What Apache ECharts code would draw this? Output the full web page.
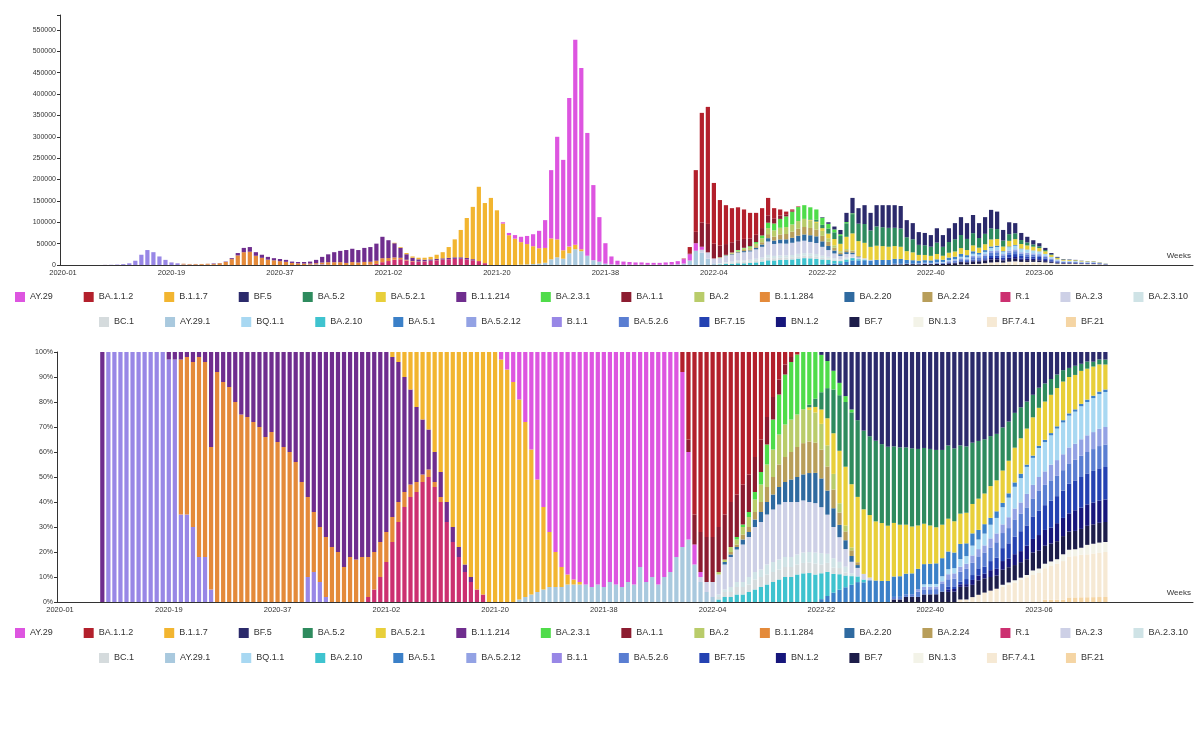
<!DOCTYPE html>
<html><head><meta charset="utf-8">
<script src="https://cdn.jsdelivr.net/npm/echarts/dist/echarts.min.js"></script>
<style>html,body{margin:0;padding:0;background:#fff}#c{width:1203px;height:745px}</style>
</head><body><div id="c"></div>
<script>
// ---------- DATA ----------
const N_WEEKS = 176;   // 2020-01 .. 2023-19
const N_BLANK = 12;    // empty axis extension after the data
const yearWeeks = [[2020, 53], [2021, 52], [2022, 52], [2023, 52]];

// weekly sequenced totals (top chart heights), weeks 0..175
const totals = [
  0,0,0,0,0,0,0,200,500,1000,
  2000,4000,10000,24000,35000,30000,20000,12000,6000,4000,
  3000,2500,2500,2500,3000,3500,4500,8000,16000,28000,
  40000,42000,30000,24000,19000,16000,14000,12000,8000,7000,
  7000,8000,12000,19000,25000,30000,33000,35000,38000,35000,
  40000,42000,50000,66000,58000,52000,42000,28000,20000,17000,
  17000,19000,24000,30000,42000,60000,82000,110000,136000,183000,
  145000,157000,128000,100000,75000,70000,66000,68000,72000,80000,
  105000,222000,300000,246000,391000,527000,461000,309000,187000,112000,
  51000,20000,10000,8000,7000,6000,6000,5000,5000,5000,
  6000,7000,9000,15000,42000,222000,356000,370000,192000,152000,
  140000,133000,135000,130000,122000,122000,133000,157000,133000,130000,
  125000,130000,137000,140000,135000,130000,112000,100000,90000,82000,
  122000,157000,133000,140000,122000,140000,140000,140000,140000,138000,
  105000,98000,77000,75000,70000,86000,70000,86000,98000,112000,
  98000,117000,98000,112000,129000,125000,82000,100000,98000,75000,
  66000,58000,51000,40000,28000,19000,14000,13000,12000,10000,
  9000,9000,7000,4000,2000,1000
];

// lineage shares (%), given as [startWeekIndex, values...] pieces
const B_1_1      = [[8, [100,100,100,100,100,100,100,100,100,100, 97,97,35,35,30,18,18,5,0,0, 0,0,0,0,0,0,0,0,0,0, 0,0,0,10,12,8,2]]];
const B_1_1_284  = [[20, [62,63,66,80,78,57,92,88,86,80, 75,74,72,70,66,68,64,62,60,56, 48,32,24,22,24,22,20,14,18,17, 18,16,15,14,12,10,8,6,5,4, 3,3,2,2]]];
const B_1_1_214  = [[7, [100]], [18, [3,3,3,2,4,2,4,38,8,12,14,20,25,26,28,30,34,32,36,38,40,44,52,58,64,70,74,78,80,86,82,83,82,82,80,76,72,64,56,46,38,30,22,16,12,10,8,6,4,3,2]]];
const R_1        = [[51, [2,5,10,16,24,32,38,42,44,48, 50,46,40,32,24,18,12,8,5,3]]];
const B_1_1_7    = [[55, [2,4,10,15,22,27,31,40,48,60, 70,78,85,90,95,97,100,100,97,93, 88,80,70,58,45,33,22,14,8,4, 2,1]]];
const AY_29      = [[73, [3,7,12,19,28,39,51,62,72,80, 86,89,91,92,93,94,93,94,92,93, 94,92,93,86,92,90,93,90,88,82, 70,35,8,2]]];
const AY_29_1    = [[76, [1,2,3,4,5,6,6,6,7,7, 7,7,6,7,6,8,7,6,8,7, 14,8,10,7,10,12,18,22,25,15, 8,4,2]]];
const BA_1_1_2   = [[103, [8,35,65,72,74,74,70,65,60,57, 53,49,42,35,26,18,11,5,2,1]]];
const BA_1_1     = [[104, [5,12,16,18,18,18,18,18,17,16, 15,14,13,11,9,6,4,2]]];
const BA_2_3     = [[106, [2,4,6,8,10,12,13,15,16,18, 19,20,21,22,22,22,21,20,19,18, 16,13,10,8,6,4,3,2,1]]];
const BA_2_10    = [[109, [1,2,2,3,3,4,5,6,7,8, 9,10,10,11,11,11,10,9,8,6, 5,4,3,2,1]]];
const BC_1       = [[109, [1,2,2,3,3,3,4,4,4,4, 4,4,4,4,4,4,4,3,3,2, 2,1]]];
const BA_2_3_10  = [[109, [1,1,2,2,2,3,3,3,4,4, 4,4,4,4,4,4,4,4,3,3, 2,2,1]]];
const BA_2_20    = [[110, [1,1,1,2,2,3,4,5,6,7, 8,9,10,10,11,11,10,8,6,4, 3,2,1]]];
const BA_2_24    = [[111, [1,1,2,2,3,4,6,7,9,10, 11,12,12,12,11,10,8,6,4,3, 2,1]]];
const BA_2       = [[109, [1,1,2,2,3,4,5,7,9,11, 12,13,13,13,13,12,11,9,7,5, 3,2,1]]];
const BA_2_3_1   = [[112, [1,1,2,3,5,8,12,16,20,23, 24,22,20,17,13,9,6,4,2,1]]];
const BA_5_2     = [[124, [1,3,6,10,14,18,22,25,27,28, 29,30,30,30,30,30,30,30,30,30, 30,30,29,29,28,27,26,25,24,23, 22,21,20,18,16,14,12,10,9,8, 7,6,5,4,4,3,3,2,2,2]]];
const BA_5_2_1   = [[124, [1,2,5,9,13,17,20,22,23,23, 23,22,22,21,21,20,19,18,17,16, 15,14,13,13,12,12,12,12,13,13, 14,14,15,15,16,16,16,17,17,17, 17,17,17,16,15,14,13,12,11,10]]];
const BF_5       = [[126, [1,3,6,10,15,20,24,28,31,33, 35,36,37,37,37,37,38,38,38,38, 38,37,37,37,37,37,37,37,37,37, 35,32,28,25,22,19,16,14,12,10, 8,7,6,5,4,4,3,3]]];
const BA_5_1     = [[126, [1,2,3,4,5,6,7,7,8,8, 8,8,8,8,8,8,8,8,8,8, 7,7,6,6,5,5,4,4,3,3, 2,2,2,2,1,1,1,1,1,1, 1,1,1,1,1,1,1,1]]];
const BQ_1_1     = [[143, [1,1,1,2,2,2,3,3,4,4, 5,6,7,8,9,10,11,12,12,13, 13,13,14,14,14,14,14,14,14,14, 14]]];
const BA_5_2_6   = [[138, [1,1,1,1,2,2,2,2,3,3, 3,4,4,5,5,6,6,7,7,7, 8,8,8,8,9,9,9,9,9,9, 9,9,9,9,9,9]]];
const BA_5_2_12  = [[142, [1,1,1,1,1,2,2,2,2,3, 3,3,4,4,4,5,5,5,6,6, 6,6,7,7,7,7,7,7,7,7, 7,7]]];
const BF_7_15    = [[147, [1,1,1,2,2,3,3,4,5,6, 7,8,9,9,10,11,11,12,12,12, 13,13,13,13,13,13,13]]];
const BN_1_2     = [[147, [1,1,1,1,2,2,2,3,3,4, 4,5,5,6,6,7,7,7,8,8, 8,9,9,9,9,9,9]]];
const BF_7       = [[138, [1,1,2,2,2,3,3,3,4,4, 4,5,5,5,6,6,6,6,7,7, 7,7,7,8,8,8,8,8,8,8, 8,8,8,8,8,8]]];
const BN_1_3     = [[156, [1,1,1,1,1,2,2,2,2,2, 3,3,3,3,4,4,4,4]]];
const BF_7_4_1   = [[149, [1,1,2,3,4,5,6,7,8,9, 10,11,12,13,14,15,16,17,18,18, 18,18,18,18,18]]];
const BF_21      = [[163, [1,1,1,1,2,2,2,2,2,2,2]]];

// legend rows (as in the picture)
const legendRow1 = ['AY.29','BA.1.1.2','B.1.1.7','BF.5','BA.5.2','BA.5.2.1','B.1.1.214','BA.2.3.1','BA.1.1','BA.2','B.1.1.284','BA.2.20','BA.2.24','R.1','BA.2.3','BA.2.3.10'];
const legendRow2 = ['BC.1','AY.29.1','BQ.1.1','BA.2.10','BA.5.1','BA.5.2.12','B.1.1','BA.5.2.6','BF.7.15','BN.1.2','BF.7','BN.1.3','BF.7.4.1','BF.21'];

// ---------- STYLE ----------
const lineages = [ // stacking order bottom -> top, with colours
  ['BF.21', BF_21, '#f5d5a4'],
  ['BF.7.4.1', BF_7_4_1, '#f6e9d4'],
  ['BN.1.3', BN_1_3, '#f3f3e8'],
  ['BF.7', BF_7, '#1d1d4a'],
  ['BN.1.2', BN_1_2, '#17167c'],
  ['BF.7.15', BF_7_15, '#2442b2'],
  ['BA.5.2.6', BA_5_2_6, '#5a7ed2'],
  ['BA.5.2.12', BA_5_2_12, '#93a2e4'],
  ['BQ.1.1', BQ_1_1, '#a8d8f2'],
  ['BA.5.1', BA_5_1, '#3b80c8'],
  ['BA.2.10', BA_2_10, '#3fc3cf'],
  ['AY.29.1', AY_29_1, '#a9c9de'],
  ['BC.1', BC_1, '#d5dbdd'],
  ['BA.2.3.10', BA_2_3_10, '#cfe3e6'],
  ['BA.2.3', BA_2_3, '#cdd0e6'],
  ['R.1', R_1, '#cc3070'],
  ['B.1.1', B_1_1, '#9887e6'],
  ['B.1.1.284', B_1_1_284, '#e48a3a'],
  ['B.1.1.214', B_1_1_214, '#6f2d8e'],
  ['B.1.1.7', B_1_1_7, '#f2b530'],
  ['AY.29', AY_29, '#dd55e0'],
  ['BA.2.20', BA_2_20, '#2f6aa0'],
  ['BA.2.24', BA_2_24, '#b89e5a'],
  ['BA.2', BA_2, '#b9cc6a'],
  ['BA.5.2.1', BA_5_2_1, '#e8cf3a'],
  ['BA.5.2', BA_5_2, '#2e8b5e'],
  ['BA.2.3.1', BA_2_3_1, '#4fdc4a'],
  ['BA.1.1', BA_1_1, '#8c1c30'],
  ['BA.1.1.2', BA_1_1_2, '#b3202c'],
  ['BF.5', BF_5, '#2b2a6b']
];

// ---------- BUILD ----------
const weeks = [];
for (const [y, n] of yearWeeks) for (let w = 1; w <= n; w++) {
  if (weeks.length < N_WEEKS) weeks.push(y + '-' + String(w).padStart(2, '0'));
}
const cats = weeks.concat(new Array(N_BLANK).fill(''));

function expand(pieces) {
  const a = new Array(N_WEEKS).fill(0);
  pieces.forEach(([s, vals]) => vals.forEach((v, k) => { a[s + k] = v; }));
  return a;
}
const shares = lineages.map(l => expand(l[1]));
const weekSum = new Array(N_WEEKS).fill(0);
shares.forEach(a => a.forEach((v, i) => { weekSum[i] += v; }));

const series = [];
lineages.forEach(([name, , color], s) => {
  const sh = shares[s];
  series.push({
    name, type: 'bar', stack: 'count', xAxisIndex: 0, yAxisIndex: 0,
    barCategoryGap: '30%', itemStyle: { color }, emphasis: { disabled: true },
    data: sh.map((v, i) => weekSum[i] ? Math.round(totals[i] * v / weekSum[i]) : 0)
  });
  series.push({
    name, type: 'bar', stack: 'pct', xAxisIndex: 1, yAxisIndex: 1,
    barCategoryGap: '30%', itemStyle: { color }, emphasis: { disabled: true },
    data: sh.map((v, i) => weekSum[i] ? v * 100 / weekSum[i] : 0)
  });
});

const axisCol = '#333';
function xAxis(gridIndex) {
  return {
    type: 'category', gridIndex, data: cats, boundaryGap: true,
    name: 'Weeks', nameLocation: 'end', nameGap: -2,
    nameTextStyle: { fontSize: 8, color: '#333', align: 'right', verticalAlign: 'bottom', padding: [0, 0, 5, 0] },
    axisLine: { lineStyle: { color: axisCol, width: 1 } },
    axisTick: { alignWithLabel: true, length: 3, lineStyle: { color: axisCol },
      interval: (idx, val) => val !== '' },
    axisLabel: { interval: 17, fontSize: 7.5, color: '#333', margin: 4, fontFamily: 'Liberation Sans, Arial' },
    splitLine: { show: false }
  };
}
const legendBase = {
  orient: 'horizontal', left: 'center', icon: 'rect', itemWidth: 10, itemHeight: 10, itemGap: 31,
  padding: 0, selectedMode: false,
  textStyle: { fontSize: 9, color: '#333', fontFamily: 'Liberation Sans, Arial' }
};

const option = {
  animation: false,
  backgroundColor: '#fff',
  grid: [
    { left: 60, right: 10, top: 15, height: 250, containLabel: false, outerBoundsMode: 'none' },
    { left: 57, right: 10, top: 352, height: 250, containLabel: false, outerBoundsMode: 'none' }
  ],
  xAxis: [xAxis(0), xAxis(1)],
  yAxis: [
    { type: 'value', gridIndex: 0, min: 0, max: 585000, interval: 50000,
      axisLine: { show: true, lineStyle: { color: axisCol } },
      axisTick: { show: true, length: 3, lineStyle: { color: axisCol } },
      axisLabel: { fontSize: 7, color: '#333', margin: 4, fontFamily: 'Liberation Sans, Arial',
        formatter: v => (v % 50000 === 0 ? String(v) : '') },
      splitLine: { show: false } },
    { type: 'value', gridIndex: 1, min: 0, max: 100, interval: 10,
      axisLine: { show: true, lineStyle: { color: axisCol } },
      axisTick: { show: true, length: 3, lineStyle: { color: axisCol } },
      axisLabel: { fontSize: 7, color: '#333', margin: 4, fontFamily: 'Liberation Sans, Arial', formatter: '{value}%' },
      splitLine: { show: false } }
  ],
  legend: [
    Object.assign({}, legendBase, { top: 292, data: legendRow1 }),
    Object.assign({}, legendBase, { top: 317, data: legendRow2 }),
    Object.assign({}, legendBase, { top: 628, data: legendRow1 }),
    Object.assign({}, legendBase, { top: 653, data: legendRow2 })
  ],
  series
};
const chart = echarts.init(document.getElementById('c'), null, { renderer: 'canvas' });
chart.setOption(option);
</script></body></html>
